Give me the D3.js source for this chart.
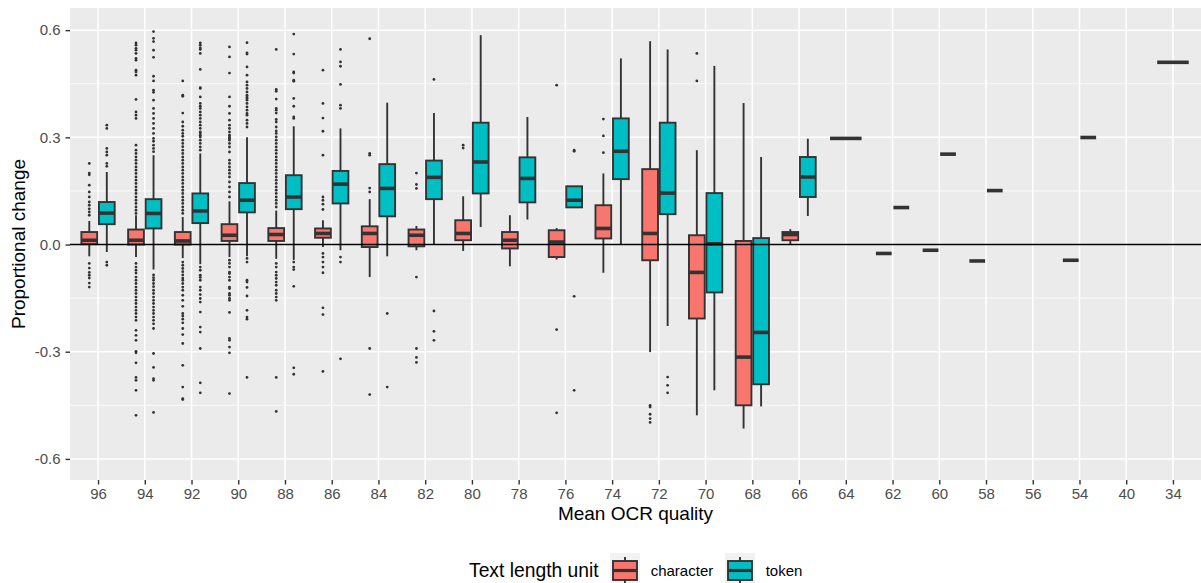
<!DOCTYPE html>
<html>
<head>
<meta charset="utf-8">
<script src="https://cdn.jsdelivr.net/npm/d3@7"></script>
<style>
  body { margin: 0; background: #fff; }
  svg { display: block; font-family: "Liberation Sans", Arial, sans-serif; }
</style>
</head>
<body>
<div id="chart"></div>
<script>
// OCR quality categories (x axis, left to right)
const categories = ["96", "94", "92", "90", "88", "86", "84", "82", "80", "78", "76", "74",
  "72", "70", "68", "66", "64", "62", "60", "58", "56", "54", "40", "34"];
const units = ["character", "token"];
const yTicks = [-0.6, -0.3, 0, 0.3, 0.6];
const yMinor = [-0.45, -0.15, 0.15, 0.45];

// box stats, character unit (null = no data)
const charLow = [-0.033, -0.035, -0.038, -0.035, -0.040, -0.007, -0.091, -0.016, -0.018, -0.061, -0.042, -0.079,
  -0.301, -0.478, -0.515, 0.0, null, -0.025, -0.016, -0.046, null, -0.044, null, null];
const charQ1 = [0.001, 0.0, 0.0, 0.010, 0.010, 0.019, -0.007, -0.005, 0.012, -0.011, -0.035, 0.017,
  -0.044, -0.207, -0.450, 0.012, null, -0.025, -0.016, -0.046, null, -0.044, null, null];
const charMed = [0.012, 0.012, 0.010, 0.026, 0.028, 0.031, 0.031, 0.026, 0.031, 0.012, 0.007, 0.045,
  0.031, -0.078, -0.315, 0.028, null, -0.025, -0.016, -0.046, null, -0.044, null, null];
const charQ3 = [0.035, 0.042, 0.035, 0.057, 0.046, 0.045, 0.051, 0.042, 0.068, 0.035, 0.040, 0.110,
  0.211, 0.026, 0.010, 0.035, null, -0.025, -0.016, -0.046, null, -0.044, null, null];
const charHigh = [0.066, 0.082, 0.077, 0.121, 0.095, 0.068, 0.127, 0.052, 0.135, 0.082, 0.046, 0.199,
  0.569, 0.264, 0.396, 0.043, null, -0.025, -0.016, -0.046, null, -0.044, null, null];

// box stats, token unit
const tokenLow = [-0.021, -0.070, -0.055, -0.033, -0.043, -0.016, -0.033, 0.001, 0.049, 0.070, 0.104, 0.0,
  -0.228, -0.408, -0.453, 0.080, 0.297, 0.1035, 0.253, 0.151, null, 0.2995, null, 0.510];
const tokenQ1 = [0.057, 0.045, 0.060, 0.090, 0.099, 0.115, 0.079, 0.127, 0.143, 0.118, 0.104, 0.183,
  0.085, -0.134, -0.391, 0.133, 0.297, 0.1035, 0.253, 0.151, null, 0.2995, null, 0.510];
const tokenMed = [0.088, 0.087, 0.094, 0.124, 0.133, 0.169, 0.157, 0.188, 0.231, 0.185, 0.124, 0.261,
  0.144, 0.002, -0.246, 0.189, 0.297, 0.1035, 0.253, 0.151, null, 0.2995, null, 0.510];
const tokenQ3 = [0.119, 0.127, 0.143, 0.172, 0.194, 0.206, 0.225, 0.235, 0.341, 0.244, 0.163, 0.353,
  0.341, 0.144, 0.018, 0.245, 0.297, 0.1035, 0.253, 0.151, null, 0.2995, null, 0.510];
const tokenHigh = [0.203, 0.250, 0.255, 0.300, 0.331, 0.325, 0.397, 0.368, 0.586, 0.357, 0.163, 0.521,
  0.546, 0.500, 0.245, 0.296, 0.297, 0.1035, 0.253, 0.151, null, 0.2995, null, 0.510];

// outliers per category
const charOutliers = [
  [0.227, 0.200, 0.195, 0.166, 0.147, 0.133, 0.119, 0.110, 0.100, 0.091, 0.082,
    -0.053, -0.066, -0.078, -0.086, -0.094, -0.108, -0.119],
  [0.564, 0.558, 0.549, 0.544, 0.535, 0.521, 0.516, 0.488, 0.483, 0.474, 0.406, 0.371, 0.362, 0.353,
    0.278, 0.264, 0.255, 0.245, 0.236, 0.227, 0.217, 0.208, 0.199, 0.189, 0.180, 0.171, 0.161, 0.152,
    0.143, 0.133, 0.124, 0.115, 0.105, 0.096, 0.087,
    -0.053, -0.063, -0.072, -0.080, -0.091, -0.100, -0.109, -0.119, -0.128, -0.137, -0.147, -0.156,
    -0.165, -0.175, -0.184, -0.193, -0.203, -0.212, -0.240, -0.254, -0.268, -0.299, -0.303, -0.331,
    -0.372, -0.380, -0.408, -0.478],
  [0.458, 0.418, 0.415, 0.368, 0.343, 0.331, 0.320, 0.311, 0.303, 0.292, 0.283, 0.274, 0.264, 0.255,
    0.245, 0.236, 0.227, 0.217, 0.208, 0.199, 0.189, 0.180, 0.171, 0.161, 0.152, 0.143, 0.133, 0.124,
    0.115, 0.105, 0.096, 0.087,
    -0.049, -0.058, -0.067, -0.076, -0.085, -0.094, -0.100, -0.109, -0.119, -0.128, -0.142, -0.156,
    -0.173, -0.193, -0.200, -0.209, -0.219, -0.235, -0.252, -0.277, -0.338, -0.399, -0.431, -0.434],
  [0.553, 0.525, 0.480, 0.413, 0.387, 0.367, 0.348, 0.334, 0.325, 0.315, 0.306, 0.301, 0.297, 0.292,
    0.283, 0.273, 0.259, 0.236, 0.227, 0.217, 0.208, 0.199, 0.189, 0.175, 0.161, 0.147, 0.133,
    -0.044, -0.053, -0.063, -0.077, -0.081, -0.091, -0.100, -0.119, -0.123, -0.137, -0.142, -0.151,
    -0.156, -0.190, -0.263, -0.268, -0.287, -0.303, -0.417],
  [0.546, 0.434, 0.429, 0.407, 0.381, 0.376, 0.368, 0.350, 0.343, 0.329, 0.318, 0.311, 0.301, 0.292,
    0.283, 0.273, 0.264, 0.255, 0.245, 0.236, 0.227, 0.217, 0.208, 0.199, 0.189, 0.180, 0.171, 0.161,
    0.152, 0.143, 0.133, 0.124, 0.115, 0.105,
    -0.053, -0.063, -0.077, -0.086, -0.095, -0.105, -0.114, -0.128, -0.137, -0.147, -0.156, -0.372, -0.467],
  [0.488, 0.395, 0.354, 0.317, 0.250, 0.133, 0.124, 0.113, 0.098,
    -0.025, -0.035, -0.049, -0.063, -0.079, -0.177, -0.196, -0.355],
  [0.576, 0.255, 0.250, 0.158, 0.147, -0.291, -0.420],
  [0.200, 0.168, 0.157, -0.091, -0.291, -0.316, -0.330],
  [0.278, 0.270],
  [],
  [0.446, -0.238, -0.471],
  [0.351, 0.304, 0.257],
  [-0.450, -0.455, -0.475, -0.487, -0.498],
  [0.535, 0.458],
  [], [], [], [], [], [], [], [], [], []
];
const tokenOutliers = [
  [0.334, 0.325, 0.269, 0.259, 0.250, 0.227, 0.219, -0.049, -0.058],
  [0.596, 0.577, 0.568, 0.544, 0.524, 0.471, 0.458, 0.432, 0.426, 0.404, 0.381, 0.367, 0.353, 0.339,
    0.325, 0.311, 0.297, 0.289, 0.278, 0.269, 0.260,
    -0.085, -0.093, -0.100, -0.109, -0.118, -0.128, -0.137, -0.147, -0.156, -0.165, -0.175, -0.184,
    -0.193, -0.203, -0.212, -0.222, -0.235, -0.305, -0.344, -0.375, -0.380, -0.470],
  [0.564, 0.558, 0.550, 0.546, 0.535, 0.490, 0.439, 0.437, 0.413, 0.395, 0.387, 0.381, 0.371, 0.362,
    0.353, 0.343, 0.334, 0.325, 0.315, 0.312, 0.306, 0.301, 0.292, 0.283, 0.273, 0.264,
    -0.063, -0.072, -0.086, -0.092, -0.100, -0.119, -0.128, -0.140, -0.151, -0.161, -0.189, -0.231,
    -0.245, -0.291, -0.387, -0.415],
  [0.565, 0.536, 0.533, 0.497, 0.474, 0.455, 0.446, 0.437, 0.427, 0.418, 0.413, 0.409, 0.404, 0.395,
    0.385, 0.376, 0.367, 0.362, 0.348, 0.339, 0.329,
    -0.039, -0.049, -0.100, -0.105, -0.120, -0.144, -0.184, -0.203, -0.209, -0.372],
  [0.589, 0.533, 0.483, 0.480, 0.460, 0.457, 0.409, 0.387, 0.357, 0.353,
    -0.049, -0.063, -0.070, -0.117, -0.345, -0.363],
  [0.546, 0.511, 0.499, 0.448, 0.390, 0.381, -0.035, -0.049, -0.320],
  [-0.193, -0.399],
  [0.462, -0.186, -0.243, -0.268],
  [],
  [],
  [0.264, 0.261, -0.145, -0.408],
  [],
  [-0.371, -0.394, -0.415],
  [], [], [], [], [], [], [], [], [], [], []
];

const colors = { character: "#F8766D", token: "#00BFC4" };

const W = 1201, H = 583;
const panel = { left: 70, right: 1201, top: 8, bottom: 480 };

const svg = d3.select("#chart").append("svg")
  .attr("width", W)
  .attr("height", H);

const x = d3.scalePoint()
  .domain(categories)
  .range([panel.left, panel.right])
  .padding(0.6);
const step = x.step();
const dodge = d3.scaleBand()
  .domain(units)
  .range([-0.375 * step, 0.375 * step]);

const y = d3.scaleLinear()
  .domain([-0.659, 0.662])
  .range([panel.bottom, panel.top]);

// build box records
const stats = {
  character: { low: charLow, q1: charQ1, med: charMed, q3: charQ3, high: charHigh, out: charOutliers },
  token: { low: tokenLow, q1: tokenQ1, med: tokenMed, q3: tokenQ3, high: tokenHigh, out: tokenOutliers },
};
const boxes = [];
categories.forEach((cat, i) => {
  const present = units.filter((u) => stats[u].med[i] !== null);
  present.forEach((u) => {
    const s = stats[u];
    let cx, w;
    if (present.length === 1) {
      cx = x(cat);
      w = 0.75 * step * 0.9;
    } else {
      cx = x(cat) + dodge(u) + dodge.bandwidth() / 2;
      w = dodge.bandwidth() * 0.9;
    }
    boxes.push({
      cat, unit: u, cx, w,
      low: s.low[i], q1: s.q1[i], med: s.med[i], q3: s.q3[i], high: s.high[i],
      out: s.out[i],
    });
  });
});

// panel background and grid
svg.append("rect")
  .attr("x", panel.left)
  .attr("y", panel.top)
  .attr("width", panel.right - panel.left)
  .attr("height", panel.bottom - panel.top)
  .attr("fill", "#EBEBEB");

const grid = svg.append("g");
grid.selectAll(".minor")
  .data(yMinor)
  .enter()
  .append("line")
  .attr("x1", panel.left)
  .attr("x2", panel.right)
  .attr("y1", (d) => y(d))
  .attr("y2", (d) => y(d))
  .attr("stroke", "#fff")
  .attr("stroke-width", 0.8);
grid.selectAll(".major-y")
  .data(yTicks)
  .enter()
  .append("line")
  .attr("x1", panel.left)
  .attr("x2", panel.right)
  .attr("y1", (d) => y(d))
  .attr("y2", (d) => y(d))
  .attr("stroke", "#fff")
  .attr("stroke-width", 1.5);
grid.selectAll(".major-x")
  .data(categories)
  .enter()
  .append("line")
  .attr("x1", (d) => x(d))
  .attr("x2", (d) => x(d))
  .attr("y1", panel.top)
  .attr("y2", panel.bottom)
  .attr("stroke", "#fff")
  .attr("stroke-width", 1.5);

// boxplots
const dark = "#333333";
const g = svg.append("g");
const bx = g.selectAll(".box")
  .data(boxes)
  .enter()
  .append("g")
  .attr("class", "box");

bx.append("line")
  .attr("x1", (d) => d.cx)
  .attr("x2", (d) => d.cx)
  .attr("y1", (d) => y(d.high))
  .attr("y2", (d) => y(d.q3))
  .attr("stroke", dark)
  .attr("stroke-width", 1.9);
bx.append("line")
  .attr("x1", (d) => d.cx)
  .attr("x2", (d) => d.cx)
  .attr("y1", (d) => y(d.q1))
  .attr("y2", (d) => y(d.low))
  .attr("stroke", dark)
  .attr("stroke-width", 1.9);
bx.append("rect")
  .attr("x", (d) => d.cx - d.w / 2)
  .attr("y", (d) => y(d.q3))
  .attr("width", (d) => d.w)
  .attr("height", (d) => y(d.q1) - y(d.q3))
  .attr("fill", (d) => colors[d.unit])
  .attr("stroke", dark)
  .attr("stroke-width", 1.9);
bx.append("line")
  .attr("x1", (d) => d.cx - d.w / 2)
  .attr("x2", (d) => d.cx + d.w / 2)
  .attr("y1", (d) => y(d.med))
  .attr("y2", (d) => y(d.med))
  .attr("stroke", dark)
  .attr("stroke-width", 3.6);
bx.selectAll("circle")
  .data((d) => d.out.map((v) => ({ cx: d.cx, v })))
  .enter()
  .append("circle")
  .attr("cx", (d) => d.cx)
  .attr("cy", (d) => y(d.v))
  .attr("r", 1.4)
  .attr("fill", dark);

// zero reference line
svg.append("line")
  .attr("x1", panel.left)
  .attr("x2", panel.right)
  .attr("y1", y(0))
  .attr("y2", y(0))
  .attr("stroke", "#000")
  .attr("stroke-width", 1.4);

// axes
const yAxis = svg.append("g")
  .attr("transform", `translate(${panel.left},0)`)
  .call(d3.axisLeft(y).tickValues(yTicks).tickFormat((d) => d.toFixed(1)).tickSize(4.5).tickPadding(5));
const xAxis = svg.append("g")
  .attr("transform", `translate(0,${panel.bottom})`)
  .call(d3.axisBottom(x).tickSize(4.5).tickPadding(4.3));
[xAxis, yAxis].forEach((a) => {
  a.select(".domain").remove();
  a.selectAll(".tick line").attr("stroke", dark).attr("stroke-width", 1.4);
  a.selectAll(".tick text")
    .attr("fill", "#4D4D4D")
    .style("font-size", "15px")
    .style("font-family", "'Liberation Sans', Arial, sans-serif");
});

// axis titles
svg.append("text")
  .attr("x", (panel.left + panel.right) / 2)
  .attr("y", 520)
  .attr("text-anchor", "middle")
  .style("font-size", "19px")
  .text("Mean OCR quality");

svg.append("text")
  .attr("transform", `translate(25,${(panel.top + panel.bottom) / 2}) rotate(-90)`)
  .attr("text-anchor", "middle")
  .style("font-size", "19px")
  .text("Proportional change");

// legend
const legend = svg.append("g");
legend.append("text")
  .attr("x", 469)
  .attr("y", 576.5)
  .style("font-size", "19.3px")
  .text("Text length unit");

const keyX = { character: 610, token: 725 };
const key = legend.selectAll(".key")
  .data(units)
  .enter()
  .append("g")
  .attr("transform", (d) => `translate(${keyX[d]},553)`);
key.append("rect")
  .attr("width", 30)
  .attr("height", 30)
  .attr("fill", "#F2F2F2");
key.append("line")
  .attr("x1", 15).attr("x2", 15)
  .attr("y1", 4).attr("y2", 30)
  .attr("stroke", dark)
  .attr("stroke-width", 1.9);
key.append("rect")
  .attr("x", 3)
  .attr("y", 8)
  .attr("width", 24)
  .attr("height", 19)
  .attr("fill", (d) => colors[d])
  .attr("stroke", dark)
  .attr("stroke-width", 1.9);
key.append("line")
  .attr("x1", 3).attr("x2", 27)
  .attr("y1", 17.5).attr("y2", 17.5)
  .attr("stroke", dark)
  .attr("stroke-width", 3.2);
key.append("text")
  .attr("x", 40.7)
  .attr("y", 23)
  .style("font-size", "15px")
  .text((d) => d);
</script>
</body>
</html>
